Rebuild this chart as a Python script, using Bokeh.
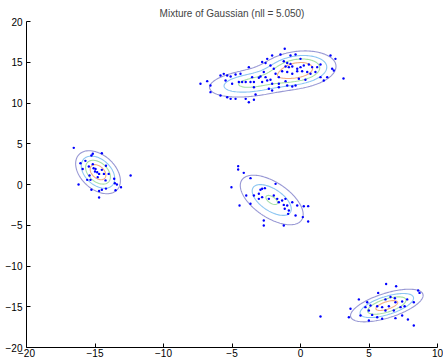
import numpy as np
from bokeh.plotting import figure
from bokeh.models import Range1d, FixedTicker
from bokeh.embed import file_html
from bokeh.resources import INLINE

# ---- data ----
left_x = [-16.55, -15.26, -14.5, -16.06, -15.7, -15.45, -15.9, -15.16, -14.96, -15.0, -14.84, -14.7,
          -14.5, -14.35, -14.0, -15.57, -15.33, -14.23, -13.6, -16.2, -13.55, -12.4, -13.4, -13.1,
          -15.26, -14.7, -14.5, -14.2, -13.5, -14.7, -15.16, -15.1, -14.8, -15.4, -14.2]
left_y = [4.5, 3.56, 3.84, 2.6, 2.9, 2.2, 1.9, 2.5, 1.9, 1.6, 1.5, 1.3,
          1.8, 1.3, 1.3, 0.57, 0.57, 0.5, 0.7, 0.0, 0.16, 1.1, 0.0, -0.33,
          -0.65, -0.8, -0.65, -0.5, -0.7, -1.6, 3.77, 2.0, 0.9, 1.1, 2.3]

mid_x = [-4.55, -4.55, -4.14, -5.04, -3.65, -1.82, -2.8, -2.92, -2.6, -3.4, -3.04, -3.96, -3.65,
         -4.45, -2.31, -1.95, -1.7, -1.58, -1.34, -1.1, -1.22, -0.97, -1.15, -0.85, -0.9, -0.6,
         -0.24, 0.24, 0.56, -0.36, 0.17, 0.56, -2.68, -2.68, -1.22, -3.04, -2.8]
mid_y = [2.25, 1.84, 1.43, -0.33, 0.78, 0.08, -0.53, -0.65, -0.45, -1.35, -1.76, -1.35, -2.37,
         -2.58, -1.76, -1.35, -1.76, -2.17, -1.96, -1.76, -2.5, -2.58, -2.98, -3.19, -3.6, -2.17,
         -2.58, -2.66, -2.66, -3.8, -4.0, -4.54, -4.42, -5.03, -5.03, -1.14, -1.55]

br_x = [6.25, 6.98, 8.59, 8.69, 5.67, 4.26, 4.87, 6.57, 6.89, 6.2, 6.93, 7.42, 7.79, 8.27, 4.74,
        5.11, 5.6, 5.96, 6.45, 7.3, 7.6, 3.65, 4.99, 6.2, 6.81, 3.53, 4.38, 5.23, 5.6, 5.96, 6.93,
        7.42, 4.99, 7.84, 8.27, 1.46]
br_y = [-12.2, -12.48, -13.0, -13.3, -13.3, -14.1, -14.44, -13.8, -13.95, -14.1, -14.44, -14.36,
        -14.1, -14.44, -15.05, -14.85, -14.93, -15.05, -14.93, -15.05, -14.93, -15.25, -15.46,
        -15.46, -15.46, -16.28, -16.07, -16.0, -16.28, -16.48, -16.4, -16.07, -16.69, -16.56,
        -17.3, -16.2]

top_x = [-7.3, -6.81, -6.57, -6.57, -5.84, -5.6, -5.35, -5.1, -5.47, -4.74, -4.38, -5.84, -5.35,
         -5.1, -4.74, -4.0, -3.77, -3.4, -3.28, -4.5, -4.26, -4.0, -4.99, -3.77, -3.53, -3.4,
         -3.4, -3.04, -2.92, -2.8, -2.68, -2.55, -2.43, -2.31, -2.55, -2.43, -2.19, -2.8, -1.95,
         -2.07, -1.82, -2.07, -3.65,
         -1.15, -1.46, -0.73, -0.36, 0.0, -1.22, -0.97, -0.73, -1.09, -0.85, -0.6, -0.24, 0.0,
         0.24, 0.61, 0.85, 1.22, 1.46, -1.34, -0.97, -0.6, -0.24, 0.12, 0.49, 0.73, 1.09, 1.46,
         1.95, 2.19, 2.55, 2.31, 2.43, 1.7, 0.36, -0.12, -0.36, -0.6, -1.58, -2.19, -1.58,
         -1.09, -0.97, -1.58, -2.07, 3.14]
top_y = [12.36, 12.68, 12.15, 11.33, 13.37, 13.58, 13.37, 13.25, 12.76, 13.5, 13.58, 10.92, 10.71,
         10.51, 10.51, 10.51, 10.1, 10.4, 11.04, 12.58, 12.58, 12.58, 12.36, 14.4, 13.17, 12.58,
         11.94, 13.09, 13.25, 12.58, 13.8, 13.17, 12.76, 11.74, 14.9, 15.42, 14.6, 15.03, 14.2,
         15.83, 13.58, 12.36, 12.58,
         16.65, 15.95, 15.83, 15.95, 15.42, 15.13, 14.9, 14.8, 14.48, 14.4, 14.48, 14.2, 14.4,
         14.6, 14.72, 14.4, 14.4, 14.72, 13.9, 13.8, 13.58, 13.9, 13.9, 13.8, 13.58, 13.8, 13.17,
         13.17, 15.83, 15.42, 14.2, 13.99, 12.76, 12.85, 12.97, 12.15, 12.03, 13.17, 12.85, 12.36,
         12.68, 12.15, 11.94, 11.53, 13.0]

# mixture components (weights, means, covariances)
weights = [0.156, 0.2, 0.161, 0.163, 0.234]
means = [(-14.78, 1.51), (-2.1, -1.9), (6.3, -14.85), (-3.75, 12.4), (-0.1, 14.15)]
covs = [[[0.845, -0.544], [-0.544, 2.21]],
        [[2.33, -1.8], [-1.8, 4.09]],
        [[2.31, 1.085], [1.085, 1.32]],
        [[3.6, 0.6], [0.6, 1.2]],
        [[2.3, 0.3], [0.3, 1.6]]]
levels = [0.0041, 0.0082, 0.0122, 0.0163]
level_colors = ["#9898d4", "#8cc6f2", "#a6e0a6", "#f2b084"]

title_text = "Mixture of Gaussian (nll = 5.050)"
x_ticks = [-20, -15, -10, -5, 0, 5, 10]
y_ticks = [-20, -15, -10, -5, 0, 5, 10, 15, 20]

# ---- figure ----
p = figure(width=443, height=362, output_backend="svg", toolbar_location=None,
           x_range=Range1d(-20, 10), y_range=Range1d(-20, 20),
           min_border_left=26, min_border_right=6, min_border_top=21, min_border_bottom=15)
p.title.text = title_text
p.title.align = "center"
p.title.text_font = "Liberation Sans"
p.title.text_font_size = "10px"
p.title.text_font_style = "normal"
p.title.standoff = 5
p.outline_line_color = None
p.grid.visible = False
p.background_fill_color = "white"
p.border_fill_color = "white"

for ax, ticks in ((p.xaxis[0], x_ticks), (p.yaxis[0], y_ticks)):
    ax.ticker = FixedTicker(ticks=ticks)
    ax.major_tick_in = 4
    ax.major_tick_out = 0
    ax.minor_tick_line_color = None
    ax.axis_line_color = "black"
    ax.major_tick_line_color = "black"
    ax.major_label_text_font = "Liberation Sans"
    ax.major_label_text_font_size = "10px"
    ax.major_label_text_color = "black"
p.xaxis[0].major_label_standoff = 1
p.yaxis[0].major_label_standoff = 4

# density grid for the contours
gx = np.linspace(-20, 10, 301)
gy = np.linspace(-20, 20, 401)
XX, YY = np.meshgrid(gx, gy)
Z = np.zeros_like(XX)
for w, m, c in zip(weights, means, covs):
    c = np.array(c)
    inv = np.linalg.inv(c)
    det = np.linalg.det(c)
    dx = XX - m[0]
    dy = YY - m[1]
    q = inv[0, 0] * dx * dx + 2 * inv[0, 1] * dx * dy + inv[1, 1] * dy * dy
    Z += w / (2 * np.pi * np.sqrt(det)) * np.exp(-0.5 * q)

p.contour(gx, gy, Z, levels, line_color=level_colors, line_width=1.1)

all_x = left_x + mid_x + br_x + top_x
all_y = left_y + mid_y + br_y + top_y
p.scatter(all_x, all_y, size=2.4, fill_color="#0000ff", line_color=None)

open("out.html", "w").write(file_html(p, INLINE))
